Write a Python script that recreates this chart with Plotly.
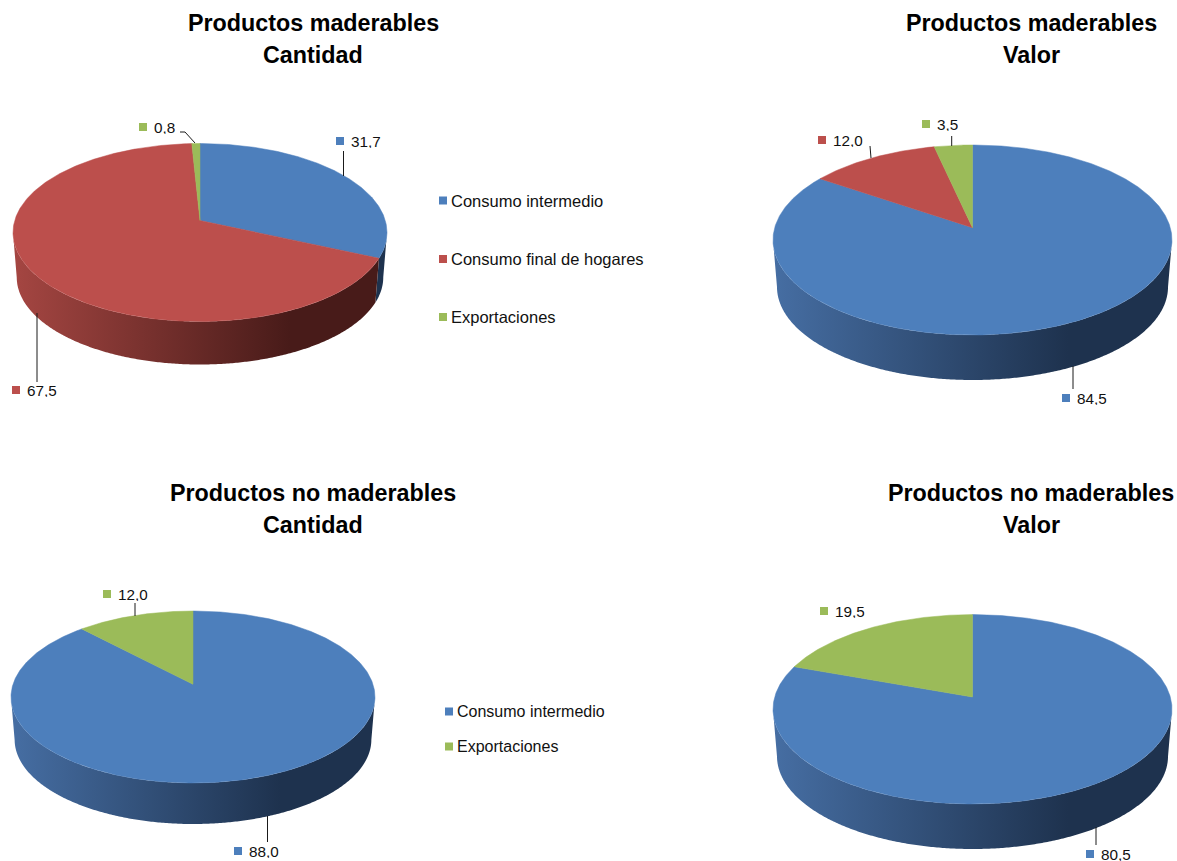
import math
import plotly.graph_objects as go

# ---- data ----
CONSUMO = "Consumo intermedio"
HOGARES = "Consumo final de hogares"
EXPORT = "Exportaciones"

mad_cant_categories = [CONSUMO, HOGARES, EXPORT]
mad_cant_values = [31.7, 67.5, 0.8]
mad_valor_categories = [CONSUMO, HOGARES, EXPORT]
mad_valor_values = [84.5, 12.0, 3.5]
nomad_cant_categories = [CONSUMO, EXPORT]
nomad_cant_values = [88.0, 12.0]
nomad_valor_categories = [CONSUMO, EXPORT]
nomad_valor_values = [80.5, 19.5]

legend_top = [CONSUMO, HOGARES, EXPORT]
legend_bottom = [CONSUMO, EXPORT]

# ---- styles ----
COLORS = {CONSUMO: "#4D7FBC", HOGARES: "#BC4F4C", EXPORT: "#9BBB59"}
SIDE_LIGHT = {CONSUMO: "rgb(70,110,163)", HOGARES: "rgb(165,70,66)", EXPORT: "rgb(120,145,70)"}
SIDE_DARK = {CONSUMO: "rgb(30,50,78)", HOGARES: "rgb(72,27,25)", EXPORT: "rgb(60,75,35)"}
FONT = "Liberation Sans, Arial, sans-serif"

# ---- layout of every pie, in page pixels ----
PIES = [
    dict(title=["Productos maderables", "Cantidad"], tx=313, ty=[23, 55],
         cats=mad_cant_categories, vals=mad_cant_values,
         cx=200, cy=232.5, rx=187, ry=89, e=-0.135, depth=43,
         labels=[(340, 141), (16, 390), (143, 127)],
         leaders=[[(343.5, 151), (343.5, 176)],
                  [(37, 313), (37, 382)],
                  [(180, 132), (185, 132), (195, 143)]]),
    dict(title=["Productos maderables", "Valor"], tx=1031, ty=[23, 55],
         cats=mad_valor_categories, vals=mad_valor_values,
         cx=972.5, cy=240, rx=199.5, ry=95, e=-0.13, depth=45,
         labels=[(1066, 398), (822, 140), (926, 124)],
         leaders=[[(1073, 366), (1073, 389)],
                  [(870, 146), (871, 158)],
                  [(951.7, 136), (951.7, 146)]]),
    dict(title=["Productos no maderables", "Cantidad"], tx=313, ty=[493, 525],
         cats=nomad_cant_categories, vals=nomad_cant_values,
         cx=193, cy=697, rx=182, ry=86, e=-0.148, depth=41,
         labels=[(238, 851), (107, 594)],
         leaders=[[(267.5, 816), (267.5, 842)],
                  [(135, 603), (135, 616)]]),
    dict(title=["Productos no maderables", "Valor"], tx=1031, ty=[493, 525],
         cats=nomad_valor_categories, vals=nomad_valor_values,
         cx=972.5, cy=709.3, rx=199.5, ry=94.7, e=-0.13, depth=45,
         labels=[(1090, 854), (824, 611)],
         leaders=[[(1096, 827), (1096, 845)]]),
]
LEGENDS = [
    dict(items=legend_top, mx=443, tx=448.5, ys=[200.5, 259, 317], size=16.5),
    dict(items=legend_bottom, mx=449, tx=455, ys=[711.5, 746.5], size=16),
]


def project(frac, e):
    """Perspective view of a point on the unit circle, clockwise from 12 o'clock."""
    a = 2 * math.pi * frac
    x, y = math.sin(a), -math.cos(a)
    d = 1 + e * y
    return x * math.sqrt(1 - e * e) / d, (y + e) / d


fig = go.Figure()

for p in PIES:
    total = sum(p["vals"])
    cx, cy, rx, ry, e = p["cx"], p["cy"], p["rx"], p["ry"], p["e"]
    brx, bry = rx * 0.98, ry * 0.98
    bcy = cy + ry + p["depth"] - bry

    # side wall: one gradient-filled band for each slice
    start = 0.0
    for cat, val in zip(p["cats"], p["vals"]):
        end = start + val / total
        n = max(2, int((end - start) * 720))
        pts = [project(start + (end - start) * i / n, e) for i in range(n + 1)]
        pts = [q for q in pts if q[1] >= -0.004]
        if len(pts) >= 2:
            tx_ = [cx + rx * u for u, v in pts]
            ty_ = [cy + ry * max(v, 0) for u, v in pts]
            bx_ = [cx + brx * u for u, v in pts]
            by_ = [bcy + bry * max(v, 0) for u, v in pts]
            fig.add_trace(go.Scatter(
                x=tx_ + bx_[::-1] + tx_[:1], y=ty_ + by_[::-1] + ty_[:1],
                mode="none", fill="toself",
                fillgradient=dict(type="horizontal", start=cx - rx, stop=cx + rx,
                                  colorscale=[[0, SIDE_LIGHT[cat]], [0.74, SIDE_DARK[cat]],
                                              [1, SIDE_DARK[cat]]]),
                hoverinfo="skip", showlegend=False))
        start = end

    # top face
    ax, ay = cx, cy + ry * e
    start = 0.0
    for cat, val in zip(p["cats"], p["vals"]):
        end = start + val / total
        n = max(2, int((end - start) * 720))
        xs, ys = [ax], [ay]
        for i in range(n + 1):
            u, v = project(start + (end - start) * i / n, e)
            xs.append(cx + rx * u)
            ys.append(cy + ry * v)
        xs.append(ax)
        ys.append(ay)
        fig.add_trace(go.Scatter(
            x=xs, y=ys, mode="lines", fill="toself", fillcolor=COLORS[cat],
            line=dict(color=COLORS[cat], width=0.5), hoverinfo="skip", showlegend=False))
        start = end

    # leader lines
    for lead in p["leaders"]:
        fig.add_trace(go.Scatter(
            x=[q[0] for q in lead], y=[q[1] for q in lead], mode="lines",
            line=dict(color="#1a1a1a", width=1), hoverinfo="skip", showlegend=False))

    # data labels
    for cat, val, (mx, my) in zip(p["cats"], p["vals"], p["labels"]):
        fig.add_trace(go.Scatter(
            x=[mx], y=[my], mode="markers",
            marker=dict(symbol="square", size=8, color=COLORS[cat], line=dict(width=0)),
            hoverinfo="skip", showlegend=False))
        fig.add_annotation(x=mx + 10, y=my, xref="x", yref="y", xanchor="left",
                           yanchor="middle", showarrow=False, height=14, borderpad=0,
                           text=f"{val:.1f}".replace(".", ","),
                           font=dict(family=FONT, size=15.3, color="#111111"))

    # titles
    for line, ty in zip(p["title"], p["ty"]):
        fig.add_annotation(x=p["tx"], y=ty, xref="x", yref="y", showarrow=False,
                           xanchor="center", yanchor="middle", text=f"<b>{line}</b>",
                           font=dict(family=FONT, size=23.3, color="#000000"))

# legends
for lg in LEGENDS:
    for cat, y in zip(lg["items"], lg["ys"]):
        fig.add_trace(go.Scatter(
            x=[lg["mx"]], y=[y], mode="markers",
            marker=dict(symbol="square", size=8, color=COLORS[cat], line=dict(width=0)),
            hoverinfo="skip", showlegend=False))
        fig.add_annotation(x=lg["tx"], y=y, xref="x", yref="y", xanchor="left",
                           yanchor="middle", showarrow=False, text=cat,
                           font=dict(family=FONT, size=lg["size"], color="#111111"))

fig.update_layout(
    width=1177, height=861, margin=dict(l=0, r=0, t=0, b=0),
    paper_bgcolor="white", plot_bgcolor="white", showlegend=False,
    xaxis=dict(range=[0, 1177], visible=False, fixedrange=True),
    yaxis=dict(range=[861, 0], visible=False, fixedrange=True),
)
fig.write_html("out.html", config=dict(displayModeBar=False),
               post_script="document.body.style.margin='0';document.body.style.overflow='hidden';")
